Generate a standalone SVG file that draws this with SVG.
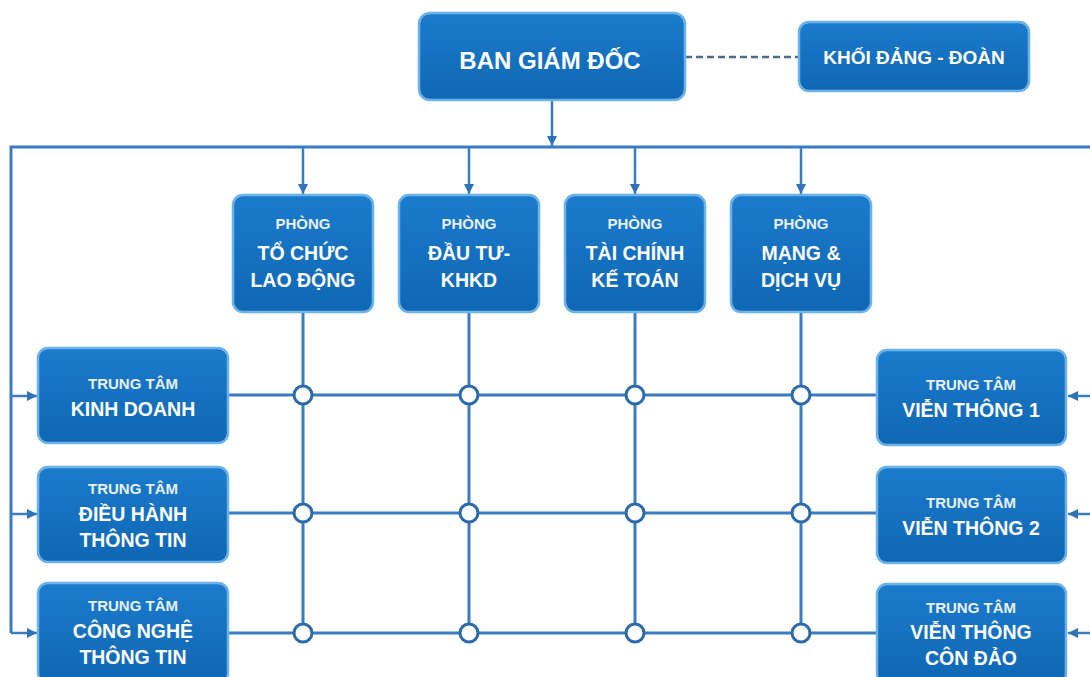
<svg xmlns="http://www.w3.org/2000/svg" width="1090" height="677" viewBox="0 0 1090 677">
<defs>
<linearGradient id="bg" x1="0" y1="0" x2="0" y2="1">
<stop offset="0" stop-color="#1b7bcc"/>
<stop offset="1" stop-color="#0f67b4"/>
</linearGradient>
<marker id="ah" viewBox="0 0 10 10" refX="10" refY="5" markerWidth="10" markerHeight="10" markerUnits="userSpaceOnUse" orient="auto">
<path d="M0,0 L10,5 L0,10 Z" fill="#2f72b6"/>
</marker>
<style>
.box{fill:url(#bg);stroke:#6db3ea;stroke-width:2.5}
.t{font-family:"Liberation Sans",Arial,sans-serif;font-weight:bold;fill:#ffffff;text-anchor:middle}
.s{font-size:15px;fill:#e8f1fa}
.b{font-size:19.5px}
.ln{stroke:#3a7cc2;stroke-width:3;fill:none}
.ar{stroke:#3a7cc2;stroke-width:2.5;fill:none;marker-end:url(#ah)}
.dot{fill:#ffffff;stroke:#2c6aa8;stroke-width:3}
</style>
</defs>
<rect width="1090" height="677" fill="#ffffff"/>

<g id="connectors">
<line x1="685" y1="57" x2="799" y2="57" stroke="#4b6b86" stroke-width="2.5" stroke-dasharray="7 4"/>
<line class="ar" x1="552" y1="101" x2="552" y2="146"/>
<polyline class="ln" points="11,633 11,147 1090,147"/>
<line class="ar" x1="303" y1="147" x2="303" y2="194"/>
<line class="ar" x1="469" y1="147" x2="469" y2="194"/>
<line class="ar" x1="635" y1="147" x2="635" y2="194"/>
<line class="ar" x1="801" y1="147" x2="801" y2="194"/>
<line class="ln" x1="303" y1="312" x2="303" y2="633"/>
<line class="ln" x1="469" y1="312" x2="469" y2="633"/>
<line class="ln" x1="635" y1="312" x2="635" y2="633"/>
<line class="ln" x1="801" y1="312" x2="801" y2="633"/>
<line class="ln" x1="228" y1="395" x2="877" y2="395"/>
<line class="ln" x1="228" y1="513" x2="877" y2="513"/>
<line class="ln" x1="228" y1="633" x2="877" y2="633"/>
<line class="ar" x1="11" y1="396" x2="37" y2="396"/>
<line class="ar" x1="11" y1="514" x2="37" y2="514"/>
<line class="ar" x1="11" y1="633" x2="37" y2="633"/>
<line class="ar" x1="1090" y1="396" x2="1068" y2="396"/>
<line class="ar" x1="1090" y1="514" x2="1068" y2="514"/>
<line class="ar" x1="1090" y1="633" x2="1068" y2="633"/>
<circle class="dot" cx="303" cy="395" r="9"/>
<circle class="dot" cx="469" cy="395" r="9"/>
<circle class="dot" cx="635" cy="395" r="9"/>
<circle class="dot" cx="801" cy="395" r="9"/>
<circle class="dot" cx="303" cy="513" r="9"/>
<circle class="dot" cx="469" cy="513" r="9"/>
<circle class="dot" cx="635" cy="513" r="9"/>
<circle class="dot" cx="801" cy="513" r="9"/>
<circle class="dot" cx="303" cy="633" r="9"/>
<circle class="dot" cx="469" cy="633" r="9"/>
<circle class="dot" cx="635" cy="633" r="9"/>
<circle class="dot" cx="801" cy="633" r="9"/>
</g>

<g id="ban-giam-doc">
<rect class="box" x="419" y="13" width="266" height="87" rx="11"/>
<text class="t" x="550" y="69" font-size="24">BAN GIÁM ĐỐC</text>
</g>
<g id="khoi-dang-doan">
<rect class="box" x="799" y="22" width="230" height="69" rx="10"/>
<text class="t" x="914" y="64" font-size="19">KHỐI ĐẢNG - ĐOÀN</text>
</g>

<g id="phong-tccl">
<rect class="box" x="233" y="195" width="140" height="117" rx="10"/>
<text class="t s" x="303" y="229">PHÒNG</text>
<text class="t b" x="303" y="260">TỔ CHỨC</text>
<text class="t b" x="303" y="287">LAO ĐỘNG</text>
</g>
<g id="phong-dtkhkd">
<rect class="box" x="399" y="195" width="140" height="117" rx="10"/>
<text class="t s" x="469" y="229">PHÒNG</text>
<text class="t b" x="469" y="260">ĐẦU TƯ-</text>
<text class="t b" x="469" y="287">KHKD</text>
</g>
<g id="phong-tckt">
<rect class="box" x="565" y="195" width="140" height="117" rx="10"/>
<text class="t s" x="635" y="229">PHÒNG</text>
<text class="t b" x="635" y="260">TÀI CHÍNH</text>
<text class="t b" x="635" y="287">KẾ TOÁN</text>
</g>
<g id="phong-mdv">
<rect class="box" x="731" y="195" width="140" height="117" rx="10"/>
<text class="t s" x="801" y="229">PHÒNG</text>
<text class="t b" x="801" y="260">MẠNG &amp;</text>
<text class="t b" x="801" y="287">DỊCH VỤ</text>
</g>

<g id="tt-kinh-doanh">
<rect class="box" x="38" y="348" width="190" height="95" rx="10"/>
<text class="t s" x="133" y="389">TRUNG TÂM</text>
<text class="t b" x="133" y="416">KINH DOANH</text>
</g>
<g id="tt-dieu-hanh">
<rect class="box" x="38" y="467" width="190" height="95" rx="10"/>
<text class="t s" x="133" y="494">TRUNG TÂM</text>
<text class="t b" x="133" y="521">ĐIỀU HÀNH</text>
<text class="t b" x="133" y="547">THÔNG TIN</text>
</g>
<g id="tt-cong-nghe">
<rect class="box" x="38" y="583" width="190" height="100" rx="10"/>
<text class="t s" x="133" y="611">TRUNG TÂM</text>
<text class="t b" x="133" y="638">CÔNG NGHỆ</text>
<text class="t b" x="133" y="664">THÔNG TIN</text>
</g>

<g id="tt-vien-thong-1">
<rect class="box" x="877" y="350" width="189" height="95" rx="10"/>
<text class="t s" x="971" y="390">TRUNG TÂM</text>
<text class="t b" x="971" y="417">VIỄN THÔNG 1</text>
</g>
<g id="tt-vien-thong-2">
<rect class="box" x="877" y="467" width="189" height="96" rx="10"/>
<text class="t s" x="971" y="508">TRUNG TÂM</text>
<text class="t b" x="971" y="535">VIỄN THÔNG 2</text>
</g>
<g id="tt-vien-thong-con-dao">
<rect class="box" x="877" y="584" width="189" height="100" rx="10"/>
<text class="t s" x="971" y="613">TRUNG TÂM</text>
<text class="t b" x="971" y="639">VIỄN THÔNG</text>
<text class="t b" x="971" y="665">CÔN ĐẢO</text>
</g>
</svg>
